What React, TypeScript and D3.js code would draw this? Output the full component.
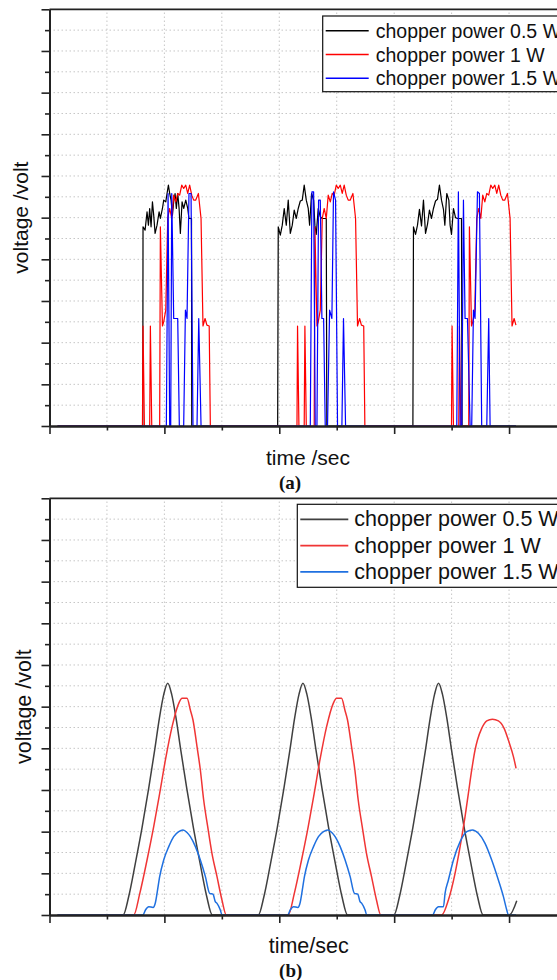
import React, { useEffect, useRef } from 'react';
import * as d3 from 'd3';

type Pt = [number, number];

// ---- data: [time (s), voltage] ----
const topBlack: Pt[] = [
  [0.07, 0], [0.812, 0],
  [0.814, 4.78], [0.832, 4.7], [0.849, 5.14], [0.861, 4.82], [0.872, 5.22], [0.884, 4.78], [0.896, 5.38], [0.907, 5.06],
  [0.919, 4.62], [0.936, 4.82], [0.954, 5.14], [0.965, 4.98], [0.983, 5.22], [0.994, 5.42], [1.012, 5.38], [1.023, 5.58],
  [1.035, 5.78], [1.046, 5.58], [1.058, 5.42], [1.07, 5.06], [1.081, 5.38], [1.093, 5.58], [1.104, 5.22], [1.116, 5.58],
  [1.128, 5.22], [1.139, 4.62], [1.154, 5.38], [1.168, 5.22], [1.186, 5.42], [1.203, 5.22], [1.214, 4.98], [1.226, 4.98],
  [1.236, 4.98], [1.238, 0],
  [1.986, 0], [1.991, 4.78], [2.009, 4.58], [2.026, 4.82], [2.043, 5.22], [2.061, 4.82], [2.078, 5.42], [2.096, 4.62],
  [2.113, 4.82], [2.13, 5.18], [2.148, 4.98], [2.165, 5.22], [2.183, 5.4], [2.2, 5.42], [2.217, 5.78], [2.235, 5.42],
  [2.252, 5.22], [2.264, 4.82], [2.281, 5.58], [2.299, 5.42], [2.31, 4.82], [2.322, 4.6], [2.339, 5.22], [2.357, 5.02],
  [2.374, 4.98], [2.391, 4.98], [2.409, 4.98], [2.414, 0],
  [3.163, 0], [3.168, 4.78], [3.186, 4.6], [3.203, 4.82], [3.22, 5.2], [3.238, 4.8], [3.255, 5.42], [3.273, 4.62],
  [3.29, 4.84], [3.307, 5.18], [3.325, 4.98], [3.342, 5.22], [3.36, 5.4], [3.377, 5.44], [3.394, 5.78], [3.412, 5.42],
  [3.429, 5.2], [3.441, 4.82], [3.458, 5.58], [3.476, 5.42], [3.487, 4.82], [3.499, 4.6], [3.516, 5.22], [3.534, 5.0],
  [3.551, 4.98], [3.568, 4.98], [3.586, 4.98], [3.591, 0], [4.06, 0],
];

const topRed: Pt[] = [
  [0.07, 0], [0.809, 0],
  [0.814, 2.4], [0.826, 0], [0.872, 0], [0.878, 2.4], [0.89, 0], [0.959, 0], [0.965, 4.78], [0.983, 2.4], [0.994, 2.5],
  [1.012, 2.78], [1.029, 4.98], [1.046, 5.22], [1.064, 4.98], [1.081, 5.54], [1.099, 5.38], [1.116, 5.58], [1.133, 5.54],
  [1.151, 5.78], [1.168, 5.7], [1.186, 5.78], [1.203, 5.58], [1.22, 5.78], [1.238, 5.54], [1.255, 5.42], [1.272, 5.42],
  [1.296, 5.58], [1.319, 4.98], [1.336, 2.4], [1.354, 2.58], [1.37, 2.42], [1.39, 2.4], [1.4, 0],
  [2.154, 0], [2.159, 2.4], [2.171, 0], [2.217, 0], [2.223, 2.4], [2.235, 0], [2.304, 0], [2.31, 4.78], [2.328, 2.4],
  [2.339, 2.5], [2.357, 2.78], [2.374, 4.98], [2.391, 5.22], [2.409, 4.98], [2.426, 5.54], [2.444, 5.38], [2.461, 5.58],
  [2.478, 5.54], [2.496, 5.78], [2.513, 5.7], [2.531, 5.78], [2.548, 5.58], [2.565, 5.78], [2.583, 5.54], [2.6, 5.42],
  [2.617, 5.42], [2.641, 5.58], [2.664, 4.98], [2.681, 2.4], [2.699, 2.58], [2.715, 2.42], [2.735, 2.4], [2.745, 0],
  [3.499, 0], [3.504, 2.4], [3.516, 0], [3.562, 0], [3.568, 2.4], [3.58, 0], [3.649, 0], [3.655, 4.78], [3.673, 2.4],
  [3.684, 2.5], [3.702, 2.78], [3.719, 4.98], [3.736, 5.22], [3.754, 4.98], [3.771, 5.54], [3.789, 5.38], [3.806, 5.58],
  [3.823, 5.54], [3.841, 5.78], [3.858, 5.7], [3.876, 5.78], [3.893, 5.58], [3.91, 5.78], [3.928, 5.54], [3.945, 5.42],
  [3.962, 5.42], [3.986, 5.58], [4.009, 4.98], [4.026, 2.4], [4.044, 2.58], [4.06, 2.42],
];

const topBlue: Pt[] = [
  [0.07, 0], [1.017, 0],
  [1.032, 5.58], [1.046, 0], [1.055, 0], [1.064, 5.58], [1.081, 2.58], [1.099, 2.58], [1.116, 2.58], [1.13, 0], [1.168, 0],
  [1.183, 2.78], [1.197, 2.58], [1.214, 5.58], [1.232, 5.58], [1.249, 0], [1.284, 0], [1.299, 2.58], [1.319, 0],
  [2.27, 0], [2.284, 5.62], [2.299, 5.62], [2.313, 0], [2.328, 0], [2.342, 5.42], [2.357, 5.42], [2.371, 2.58],
  [2.386, 2.58], [2.4, 0], [2.42, 0], [2.438, 2.78], [2.458, 2.58], [2.472, 5.62], [2.49, 5.42], [2.507, 0], [2.545, 0],
  [2.559, 2.58], [2.577, 0],
  [3.545, 0], [3.559, 5.62], [3.574, 0], [3.588, 0], [3.603, 5.42], [3.617, 2.58], [3.638, 2.58], [3.661, 0], [3.675, 0],
  [3.69, 2.78], [3.704, 2.58], [3.725, 5.62], [3.742, 5.58], [3.762, 0], [3.806, 0], [3.823, 2.58], [3.835, 0], [4.06, 0],
];

const bottomBlack: Pt[] = [
  [0.07, 0], [0.641, 0],
  [0.69, 0.45], [0.748, 1.25], [0.806, 2.1], [0.864, 3.05], [0.915, 3.95], [0.958, 4.75], [0.995, 5.3], [1.029, 5.56],
  [1.063, 5.3], [1.1, 4.75], [1.143, 3.95], [1.194, 3.05], [1.252, 2.1], [1.31, 1.25], [1.368, 0.45], [1.417, 0],
  [1.818, 0],
  [1.867, 0.45], [1.925, 1.25], [1.983, 2.1], [2.041, 3.05], [2.092, 3.95], [2.135, 4.75], [2.172, 5.3], [2.206, 5.56],
  [2.24, 5.3], [2.277, 4.75], [2.32, 3.95], [2.371, 3.05], [2.429, 2.1], [2.487, 1.25], [2.545, 0.45], [2.594, 0],
  [2.998, 0],
  [3.047, 0.45], [3.105, 1.25], [3.163, 2.1], [3.221, 3.05], [3.272, 3.95], [3.315, 4.75], [3.352, 5.3], [3.386, 5.56],
  [3.42, 5.3], [3.457, 4.75], [3.5, 3.95], [3.551, 3.05], [3.609, 2.1], [3.667, 1.25], [3.725, 0.45], [3.774, 0],
  [4.003, 0], [4.067, 0.34],
];

const bottomRed: Pt[] = [
  [0.07, 0], [0.733, 0],
  [0.786, 0.52], [0.849, 1.32], [0.907, 2.12], [0.959, 2.92], [1.009, 3.72], [1.067, 4.52], [1.125, 5.08], [1.154, 5.2],
  [1.197, 5.2], [1.226, 4.92], [1.249, 4.68], [1.284, 4.04], [1.313, 3.48], [1.342, 2.76], [1.377, 2.12], [1.414, 1.48],
  [1.458, 0.92], [1.501, 0.36], [1.539, 0], [2.078, 0],
  [2.131, 0.52], [2.194, 1.32], [2.252, 2.12], [2.304, 2.92], [2.354, 3.72], [2.412, 4.52], [2.47, 5.08], [2.499, 5.2],
  [2.542, 5.2], [2.571, 4.92], [2.594, 4.68], [2.629, 4.04], [2.658, 3.48], [2.687, 2.76], [2.722, 2.12], [2.759, 1.48],
  [2.803, 0.92], [2.846, 0.36], [2.884, 0], [3.414, 0],
  [3.472, 0.36], [3.53, 1.0], [3.574, 1.64], [3.617, 2.36], [3.646, 2.92], [3.675, 3.48], [3.704, 3.96], [3.725, 4.2],
  [3.762, 4.48], [3.806, 4.66], [3.855, 4.7], [3.907, 4.66], [3.957, 4.48], [4.003, 4.12], [4.038, 3.8], [4.061, 3.52],
];

const bottomBlue: Pt[] = [
  [0.07, 0], [0.814, 0],
  [0.835, 0.12], [0.864, 0.2], [0.901, 0.18], [0.922, 0.3], [0.936, 0.52], [0.959, 0.92], [0.994, 1.32], [1.038, 1.64],
  [1.081, 1.88], [1.125, 2.0], [1.162, 2.04], [1.197, 1.98], [1.226, 1.88], [1.27, 1.64], [1.313, 1.32], [1.357, 0.92],
  [1.394, 0.52], [1.423, 0.5], [1.443, 0.32], [1.458, 0.28], [1.487, 0.12], [1.501, 0], [2.074, 0],
  [2.095, 0.12], [2.124, 0.2], [2.161, 0.18], [2.182, 0.3], [2.196, 0.52], [2.219, 0.92], [2.254, 1.32], [2.298, 1.64],
  [2.341, 1.88], [2.385, 2.0], [2.422, 2.04], [2.457, 1.98], [2.486, 1.88], [2.53, 1.64], [2.573, 1.32], [2.617, 0.92],
  [2.654, 0.52], [2.683, 0.5], [2.703, 0.32], [2.718, 0.28], [2.747, 0.12], [2.761, 0], [3.336, 0],
  [3.357, 0.12], [3.386, 0.2], [3.429, 0.2], [3.443, 0.52], [3.472, 0.84], [3.516, 1.32], [3.574, 1.76], [3.632, 2.0],
  [3.681, 2.04], [3.733, 1.96], [3.791, 1.72], [3.849, 1.32], [3.907, 0.84], [3.951, 0.44], [3.98, 0.12], [3.994, 0],
  [4.06, 0],
];

const legendLabels = ['chopper power 0.5 W', 'chopper power 1 W', 'chopper power 1.5 W'];
const topColors = ['#000000', '#ff0000', '#0000ff'];
const bottomColors = ['#404040', '#f03535', '#1f70e0'];

const xMajor = [0, 1, 2, 3, 4];
const xMinor = [0.5, 1.5, 2.5, 3.5, 4.5];
const yMajor = [0, 1, 2, 3, 4, 5, 6, 7, 8, 9, 10];
const yMinor = [0.5, 1.5, 2.5, 3.5, 4.5, 5.5, 6.5, 7.5, 8.5, 9.5];

const SANS = 'Liberation Sans, Arial, sans-serif';
const SERIF = 'Liberation Serif, Times New Roman, serif';

const drawPanel = (svg, cfg) => {
  const x = d3.scaleLinear().domain([0, 4.5]).range([cfg.left, cfg.right]);
  const y = d3.scaleLinear().domain([0, 10]).range([cfg.bottom, cfg.top]);
  const g = svg.append('g');

  // dotted grid
  g.selectAll('.vgrid').data([...xMajor.slice(1), ...xMinor]).enter().append('line')
    .attr('x1', d => x(d)).attr('x2', d => x(d))
    .attr('y1', y(0)).attr('y2', y(10))
    .attr('stroke', '#c6c6c6').attr('stroke-width', 1).attr('stroke-dasharray', '1.5 2.5');
  g.selectAll('.hgrid').data([...yMajor.slice(1, 10), ...yMinor]).enter().append('line')
    .attr('x1', x(0)).attr('x2', x(4.5))
    .attr('y1', d => y(d)).attr('y2', d => y(d))
    .attr('stroke', '#c6c6c6').attr('stroke-width', 1).attr('stroke-dasharray', '1.5 2.5');

  // series
  const line = d3.line<Pt>().x(d => x(d[0])).y(d => y(d[1])).curve(cfg.curve);
  cfg.series.forEach((s, i) => {
    g.append('path').datum(s)
      .attr('d', line)
      .attr('fill', 'none')
      .attr('stroke', cfg.colors[i])
      .attr('stroke-width', cfg.lineWidth)
      .attr('stroke-linejoin', 'round');
  });

  // axes (no labels, major + minor ticks outward)
  const styleAxis = (a) => {
    a.selectAll('path').attr('stroke', '#222').attr('stroke-width', 2);
    a.selectAll('line').attr('stroke', '#222').attr('stroke-width', 1.6);
    a.selectAll('text').remove();
  };
  const xAxisY = y(0);
  g.append('g').attr('transform', `translate(0,${xAxisY})`)
    .call(d3.axisBottom(x).tickValues(xMajor).tickSize(8).tickSizeOuter(0).tickFormat(() => ''))
    .call(styleAxis);
  g.append('g').attr('transform', `translate(0,${xAxisY})`)
    .call(d3.axisBottom(x).tickValues(xMinor).tickSize(4.5).tickSizeOuter(0).tickFormat(() => ''))
    .call(styleAxis);
  g.append('g').attr('transform', `translate(${x(0)},0)`)
    .call(d3.axisLeft(y).tickValues(yMajor).tickSize(8).tickSizeOuter(0).tickFormat(() => ''))
    .call(styleAxis);
  g.append('g').attr('transform', `translate(${x(0)},0)`)
    .call(d3.axisLeft(y).tickValues(yMinor).tickSize(4.5).tickSizeOuter(0).tickFormat(() => ''))
    .call(styleAxis);

  // top frame line
  g.append('line')
    .attr('x1', x(0)).attr('x2', x(4.5))
    .attr('y1', y(10)).attr('y2', y(10))
    .attr('stroke', '#222').attr('stroke-width', 1.8);

  // legend
  const lg = cfg.legend;
  g.append('rect')
    .attr('x', lg.x).attr('y', lg.y)
    .attr('width', 600 - lg.x).attr('height', lg.h)
    .attr('fill', '#fff').attr('stroke', '#111').attr('stroke-width', 1.2);
  legendLabels.forEach((label, i) => {
    const ly = lg.y + lg.first + i * lg.step;
    g.append('line')
      .attr('x1', lg.x + 3).attr('x2', lg.x + 3 + lg.lineLen)
      .attr('y1', ly).attr('y2', ly)
      .attr('stroke', cfg.colors[i]).attr('stroke-width', cfg.lineWidth + 0.2);
    g.append('text')
      .attr('x', lg.x + 3 + lg.lineLen + lg.gap).attr('y', ly)
      .attr('dominant-baseline', 'central')
      .attr('font-family', SANS).attr('font-size', lg.fontSize).attr('fill', '#111')
      .text(label);
  });

  // axis titles
  g.append('text')
    .attr('transform', `translate(${cfg.yTitleX},${(y(0) + y(10)) / 2}) rotate(-90)`)
    .attr('text-anchor', 'middle')
    .attr('font-family', SANS).attr('font-size', cfg.titleSize).attr('fill', '#111')
    .text('voltage /volt');
  g.append('text')
    .attr('x', cfg.xTitleX).attr('y', cfg.xTitleY)
    .attr('text-anchor', 'middle')
    .attr('font-family', SANS).attr('font-size', cfg.titleSize).attr('fill', '#111')
    .text(cfg.xTitle);
  g.append('text')
    .attr('x', cfg.tagX).attr('y', cfg.tagY)
    .attr('text-anchor', 'middle')
    .attr('font-family', SERIF).attr('font-weight', 'bold').attr('font-size', 19).attr('fill', '#111')
    .text(cfg.tag);
};

const App = () => {
  const ref = useRef(null);

  useEffect(() => {
    const svg = d3.select(ref.current);
    svg.selectAll('*').remove();
    svg.append('rect').attr('width', 557).attr('height', 980).attr('fill', '#fff');

    drawPanel(svg, {
      left: 49.5, right: 566.5, top: 9.3, bottom: 426,
      series: [topBlack, topRed, topBlue], colors: topColors,
      curve: d3.curveLinear, lineWidth: 1.2,
      legend: { x: 322.7, y: 16, h: 75.7, first: 14.7, step: 23.8, lineLen: 43, gap: 7, fontSize: 19.5 },
      yTitleX: 28, titleSize: 21,
      xTitle: 'time /sec', xTitleX: 308, xTitleY: 464.5,
      tag: '(a)', tagX: 290, tagY: 488.5,
    });

    drawPanel(svg, {
      left: 49.5, right: 566.5, top: 498.3, bottom: 915,
      series: [bottomBlack, bottomRed, bottomBlue], colors: bottomColors,
      curve: d3.curveMonotoneX, lineWidth: 1.5,
      legend: { x: 297.3, y: 504.3, h: 83, first: 15, step: 26.3, lineLen: 48, gap: 6, fontSize: 21.5 },
      yTitleX: 31, titleSize: 21.5,
      xTitle: 'time/sec', xTitleX: 308.7, xTitleY: 952.7,
      tag: '(b)', tagX: 290.7, tagY: 977,
    });
  }, []);

  return (
    <svg
      ref={ref}
      width={557}
      height={980}
      style={{ position: 'absolute', left: 0, top: 0, display: 'block', overflow: 'hidden' }}
    />
  );
};

export default App;
